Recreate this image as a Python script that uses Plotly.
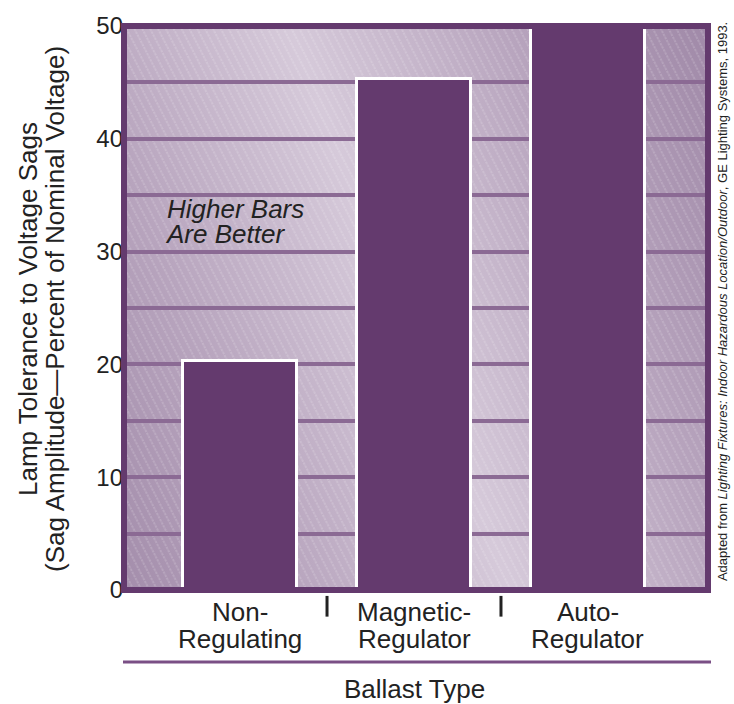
import base64
import plotly.graph_objects as go

# Data
category_top = ["Non-", "Magnetic-", "Auto-"]
category_bottom = ["Regulating", "Regulator", "Regulator"]
sag_tolerance = [20.3, 45.3, 50.0]
y_tick_values = [0, 5, 10, 15, 20, 25, 30, 35, 40, 45, 50]
y_tick_labels = ["0", "", "10", "", "20", "", "30", "", "40", "", "50"]

# Style
PURPLE = "#643a6e"
GRID = "#8b6a94"
RULE = "#7a4f85"
TEXT = "#222222"
FONT = "Liberation Sans, Arial, Helvetica, sans-serif"
W, H = 734, 704
M = dict(l=124, r=26, t=18, b=114)
PW = W - M["l"] - M["r"]
PH = H - M["t"] - M["b"]


def px_x(x):
    return (x - M["l"]) / PW


def px_y(y):
    return (H - M["b"] - y) / PH


# Plot-area backdrop: diagonal light band with fine white hatching
svg = f"""<svg xmlns="http://www.w3.org/2000/svg" width="{PW}" height="{PH}" viewBox="0 0 {PW} {PH}" preserveAspectRatio="none">
<defs>
<linearGradient id="g" gradientUnits="userSpaceOnUse" x1="-97" y1="431" x2="649" y2="141">
<stop offset="0" stop-color="#9f88a7"/>
<stop offset="0.25" stop-color="#b8a5be"/>
<stop offset="0.5" stop-color="#d6cada"/>
<stop offset="0.75" stop-color="#b8a5be"/>
<stop offset="1" stop-color="#9f88a7"/>
</linearGradient>
<pattern id="h" patternUnits="userSpaceOnUse" width="7" height="7" patternTransform="rotate(-27)">
<line x1="1" y1="0" x2="1" y2="7" stroke="#ffffff" stroke-opacity="0.3" stroke-width="1" stroke-dasharray="2.5 1"/>
</pattern>
</defs>
<rect x="0" y="0" width="{PW}" height="{PH}" fill="url(#g)"/>
<rect x="0" y="0" width="{PW}" height="{PH}" fill="url(#h)"/>
</svg>"""
backdrop = "data:image/svg+xml;base64," + base64.b64encode(svg.encode()).decode()

fig = go.Figure()
fig.add_trace(go.Bar(
    x=list(range(len(sag_tolerance))),
    y=sag_tolerance,
    width=0.655,
    marker=dict(color=PURPLE, line=dict(color="white", width=3)),
    hoverinfo="skip",
))

fig.add_layout_image(dict(
    source=backdrop, xref="paper", yref="paper", x=0, y=1, sizex=1, sizey=1,
    xanchor="left", yanchor="top", sizing="stretch", layer="below",
))

shapes = [
    # frame around the plot area
    dict(type="rect", xref="paper", yref="paper", x0=0, x1=1, y0=0, y1=1,
         line=dict(color=PURPLE, width=6), layer="above"),
    # rule above the axis title
    dict(type="line", xref="paper", yref="paper", x0=px_x(123), x1=px_x(711),
         y0=px_y(663), y1=px_y(663), line=dict(color=RULE, width=3)),
]
# separators between category labels
for b in [0.5, 1.5]:
    shapes.append(dict(type="line", xref="x", yref="paper", x0=b, x1=b,
                       y0=px_y(596), y1=px_y(617), line=dict(color=TEXT, width=3)))

label_font = dict(size=26, color=TEXT, family=FONT)
annotations = []
# two-line category labels under each bar
for i, (top, bottom) in enumerate(zip(category_top, category_bottom)):
    annotations.append(dict(text=top, xref="x", yref="paper", x=i, y=px_y(612),
                            xanchor="center", yanchor="middle", showarrow=False, font=label_font))
    annotations.append(dict(text=bottom, xref="x", yref="paper", x=i, y=px_y(640),
                            xanchor="center", yanchor="middle", showarrow=False, font=label_font))

annotations += [
    dict(text="Ballast Type", xref="paper", yref="paper", x=0.498, y=px_y(690),
         xanchor="center", yanchor="middle", showarrow=False, font=label_font),
    dict(text="<i>Higher Bars</i>", xref="paper", yref="paper",
         x=px_x(165), y=px_y(204), xanchor="left", yanchor="middle",
         showarrow=False, font=label_font),
    dict(text="<i>Are Better</i>", xref="paper", yref="paper",
         x=px_x(163), y=px_y(229), xanchor="left", yanchor="middle",
         showarrow=False, font=label_font),
    dict(text="Lamp Tolerance to Voltage Sags", xref="paper", yref="paper",
         x=px_x(28), y=px_y(305), xanchor="center", yanchor="middle",
         textangle=-90, showarrow=False, font=label_font),
    dict(text="(Sag Amplitude\u2014Percent of Nominal Voltage)", xref="paper", yref="paper",
         x=px_x(55), y=px_y(305), xanchor="center", yanchor="middle",
         textangle=-90, showarrow=False, font=label_font),
    dict(text="Adapted from <i>Lighting Fixtures: Indoor Hazardous Location/Outdoor</i>, GE Lighting Systems, 1993.",
         xref="paper", yref="paper", x=px_x(722), y=px_y(298),
         xanchor="center", yanchor="middle", textangle=-90, showarrow=False,
         font=dict(size=13, color=TEXT, family=FONT)),
]

fig.update_layout(
    width=W, height=H, margin=M,
    paper_bgcolor="white", plot_bgcolor="rgba(0,0,0,0)",
    showlegend=False, bargap=0,
    font=dict(family=FONT, color=TEXT),
    shapes=shapes, annotations=annotations,
    xaxis=dict(
        range=[-0.667, 2.69], showticklabels=False,
        showgrid=False, zeroline=False, showline=False, ticks="", fixedrange=True,
    ),
    yaxis=dict(
        range=[0, 50], tickvals=y_tick_values, ticktext=y_tick_labels,
        showgrid=True, gridcolor=GRID, gridwidth=4, zeroline=False, showline=False,
        ticks="", tickfont=dict(size=24, color=TEXT, family=FONT), fixedrange=True,
    ),
)

fig.write_html("out.html")
